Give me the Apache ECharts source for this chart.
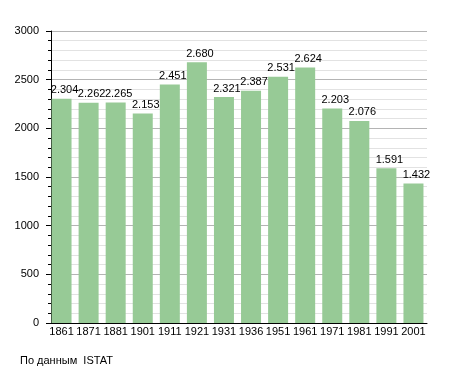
<!DOCTYPE html>
<html>
<head>
<meta charset="utf-8">
<script src="https://cdn.jsdelivr.net/npm/echarts@6/dist/echarts.min.js"></script>
<style>
html,body{margin:0;padding:0;background:#fff;}
#chart{width:455px;height:373px;}
</style>
</head>
<body>
<div id="chart"></div>
<script>
const years = ['1861','1871','1881','1901','1911','1921','1931','1936','1951','1961','1971','1981','1991','2001'];
const population = [2304, 2262, 2265, 2153, 2451, 2680, 2321, 2387, 2531, 2624, 2203, 2076, 1591, 1432];
const yTicks = [0, 500, 1000, 1500, 2000, 2500, 3000];
const sourceNote = 'По данным  ISTAT';

const FONT = "'Liberation Sans', Arial, sans-serif";
const chart = echarts.init(document.getElementById('chart'), null, {renderer: 'canvas'});
chart.setOption({
  animation: false,
  backgroundColor: '#ffffff',
  textStyle: {fontFamily: FONT},
  title: {
    text: sourceNote,
    left: 20,
    top: 355,
    padding: 0,
    textStyle: {fontSize: 11, fontWeight: 'normal', color: '#000', fontFamily: FONT}
  },
  grid: {left: 48, right: 28, top: 31, bottom: 50, containLabel: false},
  xAxis: {
    type: 'category',
    data: years,
    boundaryGap: true,
    axisLine: {show: true, lineStyle: {color: '#000', width: 1}},
    axisTick: {show: false},
    axisLabel: {color: '#000', fontSize: 11, margin: 3, fontFamily: FONT, interval: 0},
    splitLine: {show: false}
  },
  yAxis: {
    type: 'value',
    min: yTicks[0],
    max: yTicks[yTicks.length - 1],
    interval: 500,
    offset: -3,
    axisLine: {show: true, lineStyle: {color: '#000', width: 1}},
    axisTick: {show: true, length: 5, lineStyle: {color: '#000'}},
    minorTick: {show: true, splitNumber: 5, length: 3, lineStyle: {color: '#000'}},
    axisLabel: {color: '#000', fontSize: 11, margin: 12, fontFamily: FONT, formatter: v => String(v)},
    splitLine: {show: true, lineStyle: {color: '#b4b4b4', width: 1}},
    minorSplitLine: {show: true, lineStyle: {color: '#e2e2e2', width: 1}}
  },
  series: [{
    type: 'bar',
    data: population,
    barWidth: 20,
    itemStyle: {color: '#97ca96'},
    label: {
      show: true,
      position: 'top',
      distance: 3,
      offset: [3, 0],
      color: '#000',
      fontSize: 11,
      fontFamily: FONT,
      formatter: p => {
        const v = String(p.value);
        return v.length > 3 ? v.slice(0, v.length - 3) + '.' + v.slice(-3) : v;
      }
    }
  }]
});
</script>
</body>
</html>
